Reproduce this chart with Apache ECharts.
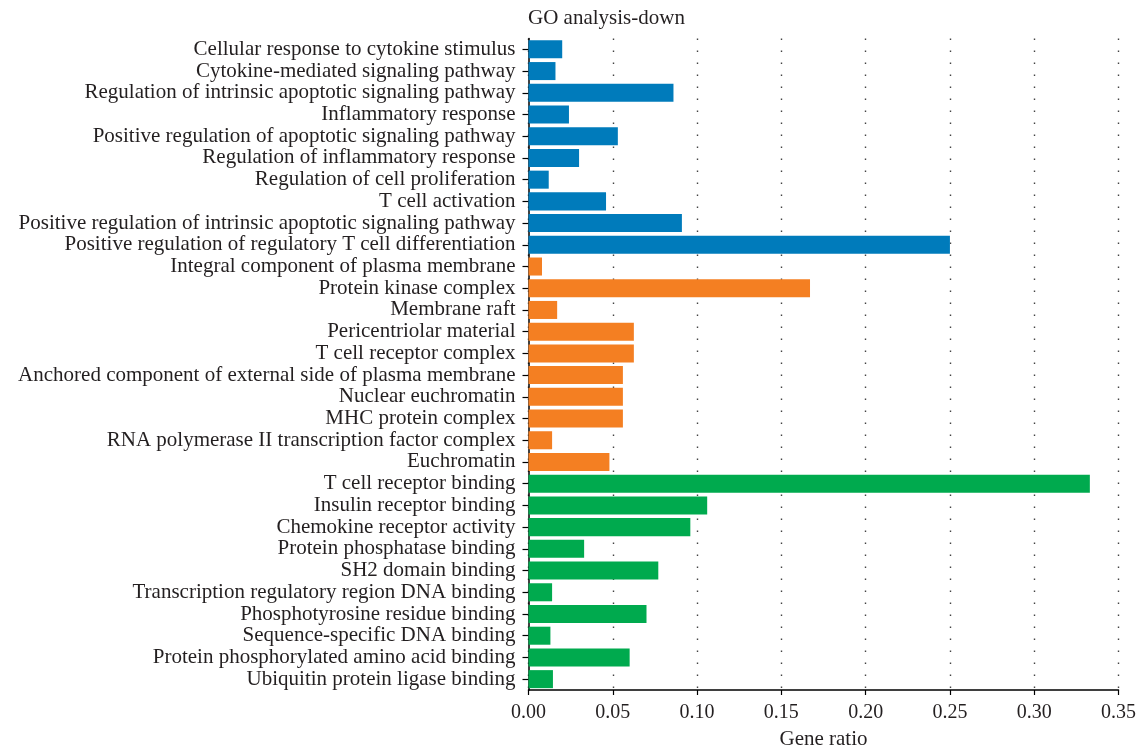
<!DOCTYPE html>
<html>
<head>
<meta charset="utf-8">
<script src="https://cdn.jsdelivr.net/npm/echarts@6/dist/echarts.min.js"></script>
<style>
html,body{margin:0;padding:0;background:#fff;}
#chart{width:1139px;height:748px;}
</style>
</head>
<body>
<div id="chart"></div>
<script>
var categories = [
  "Cellular response to cytokine stimulus",
  "Cytokine-mediated signaling pathway",
  "Regulation of intrinsic apoptotic signaling pathway",
  "Inflammatory response",
  "Positive regulation of apoptotic signaling pathway",
  "Regulation of inflammatory response",
  "Regulation of cell proliferation",
  "T cell activation",
  "Positive regulation of intrinsic apoptotic signaling pathway",
  "Positive regulation of regulatory T cell differentiation",
  "Integral component of plasma membrane",
  "Protein kinase complex",
  "Membrane raft",
  "Pericentriolar material",
  "T cell receptor complex",
  "Anchored component of external side of plasma membrane",
  "Nuclear euchromatin",
  "MHC protein complex",
  "RNA polymerase II transcription factor complex",
  "Euchromatin",
  "T cell receptor binding",
  "Insulin receptor binding",
  "Chemokine receptor activity",
  "Protein phosphatase binding",
  "SH2 domain binding",
  "Transcription regulatory region DNA binding",
  "Phosphotyrosine residue binding",
  "Sequence-specific DNA binding",
  "Protein phosphorylated amino acid binding",
  "Ubiquitin protein ligase binding"
];
var geneRatio = [
  0.020, 0.016, 0.086, 0.024, 0.053, 0.030, 0.012, 0.046, 0.091, 0.250,
  0.008, 0.167, 0.017, 0.0625, 0.0625, 0.056, 0.056, 0.056, 0.014, 0.048,
  0.333, 0.106, 0.096, 0.033, 0.077, 0.014, 0.070, 0.013, 0.060, 0.0145
];
var groups = [
  "BP","BP","BP","BP","BP","BP","BP","BP","BP","BP",
  "CC","CC","CC","CC","CC","CC","CC","CC","CC","CC",
  "MF","MF","MF","MF","MF","MF","MF","MF","MF","MF"
];
var groupColors = { BP: "#007BBB", CC: "#F47F22", MF: "#00AA4E" };
var xTicks = ["0.00","0.05","0.10","0.15","0.20","0.25","0.30","0.35"];

var FONT = "'Liberation Serif', 'DejaVu Serif', serif";
var TXT = "#231F20";

var chart = echarts.init(document.getElementById('chart'));
chart.setOption({
  animation: false,
  backgroundColor: '#fff',
  title: {
    text: 'GO analysis-down',
    left: 523, top: 3,
    textStyle: { fontFamily: FONT, fontSize: 21, fontWeight: 'normal', color: TXT }
  },
  grid: { left: 528.5, right: 20.5, top: 38.5, bottom: 58, containLabel: false, outerBoundsMode: 'none' },
  xAxis: {
    type: 'value',
    min: 0, max: 0.35, interval: 0.05,
    name: 'Gene ratio',
    nameLocation: 'middle',
    nameGap: 39,
    nameTextStyle: { fontFamily: FONT, fontSize: 21, color: TXT },
    axisLine: { show: true, lineStyle: { color: '#000', width: 1.5 } },
    axisTick: { show: true, length: 5, lineStyle: { color: '#000', width: 1.2 } },
    axisLabel: {
      fontFamily: FONT, fontSize: 20, color: TXT, margin: 13,
      formatter: function (v) { var i = Math.round(v / 0.05); return xTicks[i] !== undefined ? xTicks[i] : v.toFixed(2); }
    },
    splitLine: { show: true, lineStyle: { color: '#444', width: 1.4, type: [1.5, 10.5] } }
  },
  yAxis: {
    type: 'category',
    data: categories,
    inverse: true,
    axisLine: { show: true, lineStyle: { color: '#000', width: 1.5 } },
    axisTick: { show: true, alignWithLabel: true, length: 6, lineStyle: { color: '#000', width: 1.2 } },
    axisLabel: { fontFamily: FONT, fontSize: 21, color: TXT, margin: 13, interval: 0 },
    splitLine: { show: false }
  },
  series: [{
    type: 'bar',
    barCategoryGap: '17%',
    data: geneRatio.map(function (v, i) {
      return { value: v, itemStyle: { color: groupColors[groups[i]] } };
    })
  }]
});
</script>
</body>
</html>
